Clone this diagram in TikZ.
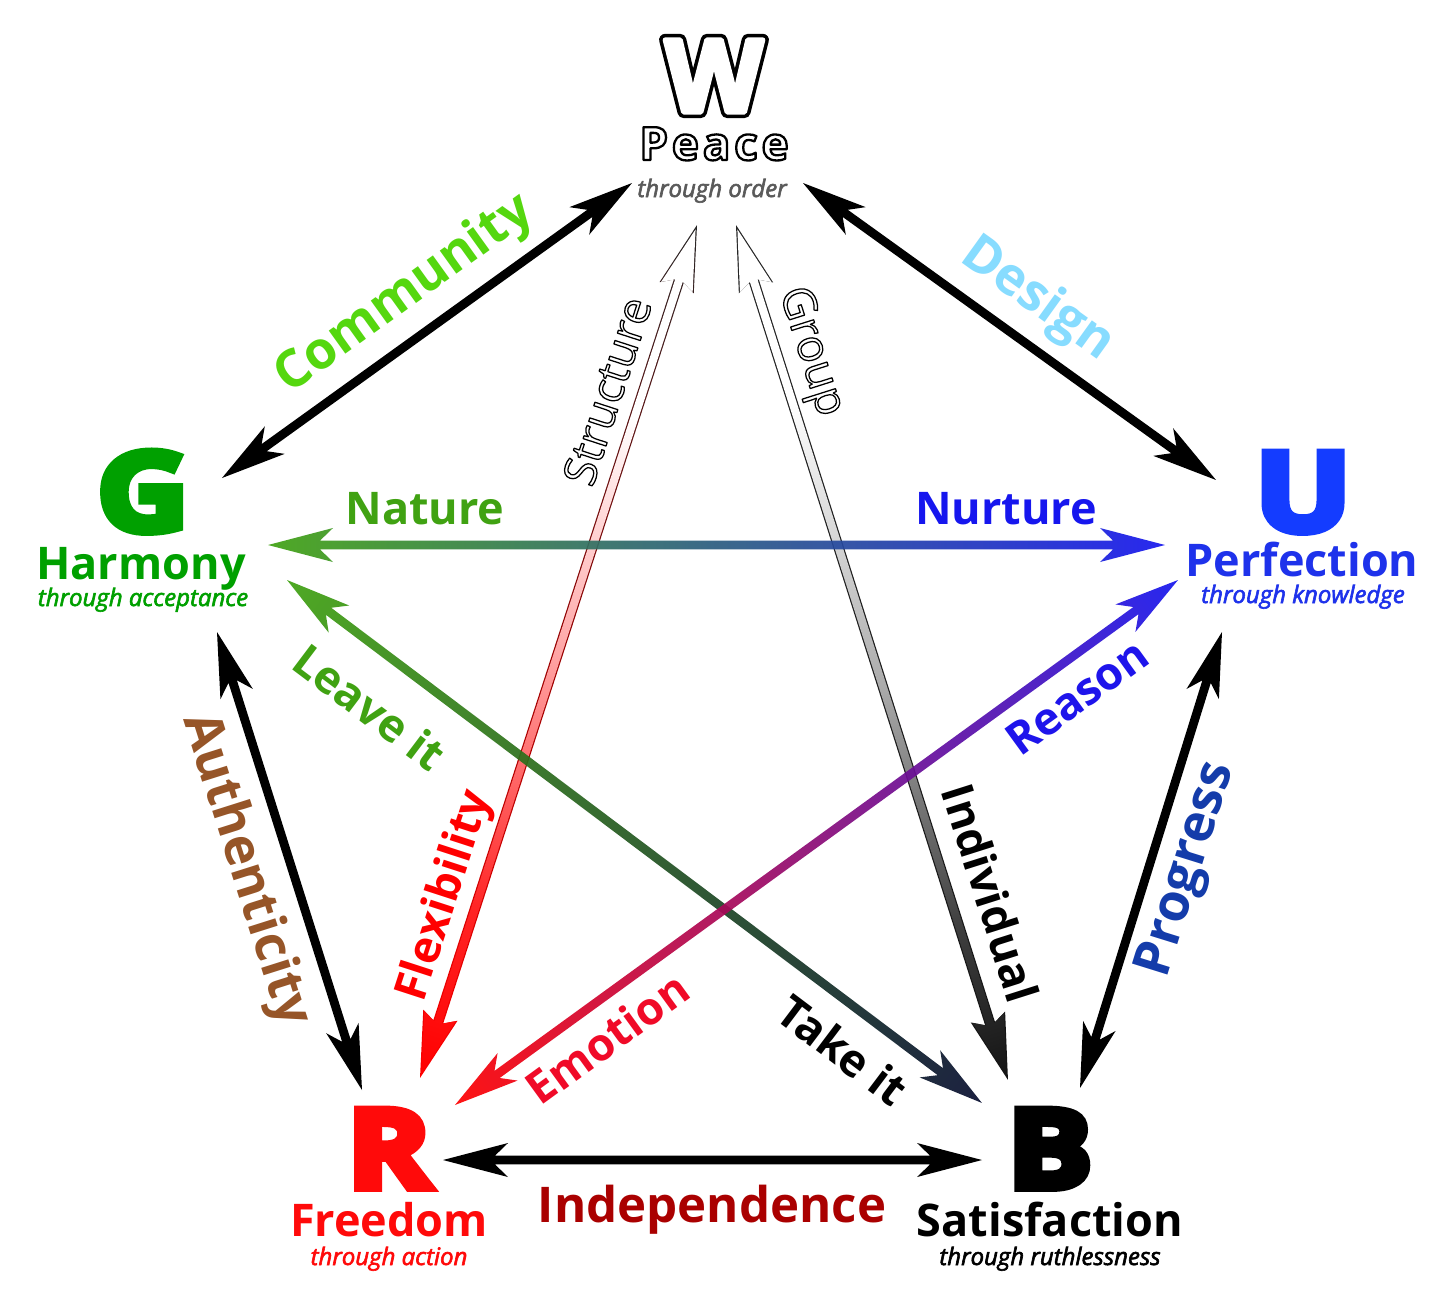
\documentclass[tikz,border=0pt]{standalone}
\usepackage{fontspec}
\usepackage{graphicx}
\setmainfont{Open Sans}
\newfontfamily\heavyfont{Open Sans}[BoldFeatures={FakeBold=7}]
\newfontfamily\subfont{Open Sans}[ItalicFeatures={FakeBold=2.5}]
\newfontfamily\wblackfont{Open Sans}[FakeBold=12,BoldFeatures={FakeBold=12}]
\newfontfamily\wwhitefont{Open Sans}[FakeBold=5,BoldFeatures={FakeBold=5}]
\newfontfamily\peacefont{Open Sans}[FakeBold=5,BoldFeatures={FakeBold=5},LetterSpace=8]
\newfontfamily\thinoutfont{Open Sans}[FakeBold=2.8,BoldFeatures={FakeBold=2.8}]
\newcommand\outlined[1]{\special{pdf:bcolor [1] [0]}#1\special{pdf:ecolor}}
\definecolor{cG}{RGB}{0,160,0}
\definecolor{cU}{RGB}{20,60,255}
\definecolor{cUt}{RGB}{30,50,235}
\definecolor{cR}{RGB}{255,10,10}
\definecolor{cCommunity}{RGB}{85,215,15}
\definecolor{cDesign}{RGB}{135,220,255}
\definecolor{cNature}{RGB}{64,162,18}
\definecolor{cNurture}{RGB}{22,22,238}
\definecolor{cReason}{RGB}{30,20,235}
\definecolor{cEmotion}{RGB}{240,10,40}
\definecolor{cAuth}{RGB}{150,85,40}
\definecolor{cProg}{RGB}{20,60,170}
\definecolor{cIndep}{RGB}{170,0,0}
\definecolor{cNavy}{RGB}{8,14,48}
\definecolor{cSub}{RGB}{90,90,90}
\pgfdeclarehorizontalshading{redfade}{100bp}{color(0bp)=(white); color(25bp)=(white); color(36bp)=(white); color(50bp)=(red!35); color(65bp)=(red!85); color(75bp)=(red); color(100bp)=(red)}
\pgfdeclarehorizontalshading{blackfade}{100bp}{color(0bp)=(white); color(25bp)=(white); color(35bp)=(white); color(52bp)=(black!33); color(66bp)=(black!75); color(75bp)=(black!92); color(100bp)=(black!92)}
\pgfdeclarehorizontalshading{redrim}{100bp}{color(0bp)=(black!85); color(25bp)=(black!85); color(50bp)=(red!60!black); color(75bp)=(red); color(100bp)=(red)}
\pgfdeclarehorizontalshading{blackrim}{100bp}{color(0bp)=(black!85); color(25bp)=(black!85); color(75bp)=(black!92); color(100bp)=(black!92)}
\makeatletter
\newdimen\arrdx \newdimen\arrdy
\newcommand\arrsetup[2]{%
  \pgfpointdiff{\pgfpointanchor{#1}{center}}{\pgfpointanchor{#2}{center}}%
  \arrdx=\pgf@x\relax \arrdy=\pgf@y\relax
  \pgfmathsetmacro\arrlen{veclen(\arrdx,\arrdy)}%
  \pgfmathsetmacro\arrang{atan2(\arrdy,\arrdx)}%
}
\makeatother
\newcommand\arrpoly[5]{%
  \pgfmathsetmacro\aT{#1}\pgfmathsetmacro\aH{#2}\pgfmathsetmacro\aHW{#3}%
  \pgfmathsetmacro\aA{#2-#4}\pgfmathsetmacro\aW{#5}%
  \pgfmathsetmacro\aB{\arrlen-#2}\pgfmathsetmacro\aC{\arrlen-#2+#4}%
  \pgfmathsetmacro\aD{\arrlen-#1}%
  \def\arrpath{(\aT pt,0pt) -- (\aH pt,\aHW pt) -- (\aA pt,\aW pt) -- (\aC pt,\aW pt) -- (\aB pt,\aHW pt) -- (\aD pt,0pt) -- (\aB pt,-\aHW pt) -- (\aC pt,-\aW pt) -- (\aA pt,-\aW pt) -- (\aH pt,-\aHW pt) -- cycle}%
}
\newcommand\shapearrow[5][]{%
  \arrsetup{#2}{#3}\arrpoly{0}{32.5}{8.5}{6.5}{2.2}%
  \begin{scope}[transform canvas={shift={(#2)},rotate=\arrang}]
    \shade[left color=#4,right color=#5,#1] \arrpath;
  \end{scope}}
\newcommand\outlinearrow[4]{% from, to, rim shading, fill shading
  \arrsetup{#1}{#2}%
  \begin{scope}[transform canvas={shift={(#1)},rotate=\arrang}]
    \arrpoly{0}{33}{9}{3.5}{2.6}%
    \shade[shading=#3] \arrpath;
    \arrpoly{2.3}{32.6}{8.3}{3.4}{2.0}%
    \shade[shading=#4] \arrpath;
  \end{scope}}
\begin{document}
\begin{tikzpicture}[x=0.5pt,y=-0.5pt,
  letter/.style={font=\heavyfont\bfseries\fontsize{55}{60}\selectfont, anchor=base, inner sep=0pt},
  vname/.style={font=\bfseries\fontsize{22.5}{26}\selectfont, anchor=base, inner sep=0pt},
  vsub/.style={font=\subfont\itshape\fontsize{12}{14}\selectfont, anchor=base, inner sep=0pt},
  elabel/.style={font=\bfseries\fontsize{26}{30}\selectfont, inner sep=0pt},
  dlabel/.style={font=\bfseries\fontsize{22.5}{26}\selectfont, inner sep=0pt},
  olabel/.style={font=\thinoutfont\fontsize{22.5}{26}\selectfont, inner sep=0pt, line join=round}]
\useasboundingbox (0,0) rectangle (1456,1292);
\fill[white] (0,0) rectangle (1456,1292);
% arrow end points
\coordinate (GW) at (222,478); \coordinate (WG) at (632,183);
\coordinate (WU) at (803,183); \coordinate (UW) at (1216,480);
\coordinate (UB) at (1222,632); \coordinate (BU) at (1080,1088);
\coordinate (BR) at (982,1160); \coordinate (RB) at (443,1160);
\coordinate (RG) at (362,1090); \coordinate (GR) at (217,632);
\coordinate (GU) at (268,545); \coordinate (UG) at (1165,545);
\coordinate (GB) at (287,580); \coordinate (BG) at (982,1103);
\coordinate (UR) at (1178,580); \coordinate (RU) at (455,1105);
\coordinate (WR) at (697,225); \coordinate (RW) at (420,1078);
\coordinate (WB) at (736,225); \coordinate (BW) at (1008,1080);
% perimeter
\shapearrow{GW}{WG}{black}{black}
\shapearrow{WU}{UW}{black}{black}
\shapearrow{UB}{BU}{black}{black}
\shapearrow{BR}{RB}{black}{black}
\shapearrow{RG}{GR}{black}{black}
% star
\outlinearrow{WR}{RW}{redrim}{redfade}
\outlinearrow{WB}{BW}{blackrim}{blackfade}
\shapearrow[opacity=0.92]{GU}{UG}{cNature}{cNurture}
\shapearrow[opacity=0.92]{GB}{BG}{cNature}{cNavy}
\shapearrow[opacity=0.92]{UR}{RU}{cNurture}{red}
% vertices
\node[letter, font=\bfseries\fontsize{50.5}{56}\selectfont, line join=round] (W) at (714,112) {{\wblackfont W}\llap{\wwhitefont\color{white}W}};
\node[vname, font=\peacefont\bfseries\fontsize{23}{26}\selectfont, line join=round] (Wn) at (714,160) {\outlined{Peace}};
\node[vsub, cSub] (Ws) at (712,197) {through order};
\node[letter, cU] (U) at (1303,531) {\scalebox{1.15}[1]{U}};
\node[vname, cUt] (Un) at (1302,576) {Perfection};
\node[vsub, cUt] (Us) at (1303,603) {through knowledge};
\node[letter, cG] (G) at (143,531) {\scalebox{1.15}[1]{G}};
\node[vname, cG] (Gn) at (141,579) {Harmony};
\node[vsub, cG] (Gs) at (143,606) {through acceptance};
\node[letter, cR] (R) at (389,1188) {\scalebox{1.15}[1]{R}};
\node[vname, cR] (Rn) at (389,1236) {Freedom};
\node[vsub, cR] (Rs) at (389,1265) {through action};
\node[letter] (B) at (1050,1188) {\scalebox{1.15}[1]{B}};
\node[vname] (Bn) at (1050,1236) {Satisfaction};
\node[vsub] (Bs) at (1050,1265) {through ruthlessness};
% edge labels
\node[elabel, cCommunity, rotate=35.7] (lCom) at (405,295) {Community};
\node[elabel, cDesign, rotate=-35.7] (lDes) at (1037,300) {Design};
\node[elabel, cAuth, rotate=-72.4] (lAut) at (245,870) {Authenticity};
\node[elabel, cProg, rotate=72.7] (lPro) at (1188,870) {Progress};
\node[elabel, cIndep, anchor=base, font=\bfseries\fontsize{24.6}{28}\selectfont] (lInd) at (712,1222) {Independence};
\node[dlabel, cNature, anchor=base] (lNat) at (425,524) {Nature};
\node[dlabel, cNurture, anchor=base] (lNur) at (1006,524) {Nurture};
\node[dlabel, cNature, rotate=-37] (lLea) at (370,707) {Leave it};
\node[dlabel, rotate=-37] (lTak) at (843,1050) {Take it};
\node[dlabel, cReason, rotate=36] (lRea) at (1077,697) {Reason};
\node[dlabel, cEmotion, rotate=36] (lEmo) at (607,1038) {Emotion};
\node[dlabel, red, rotate=72] (lFle) at (446,896) {Flexibility};
\node[dlabel, rotate=-72.4] (lIndv) at (991,893) {Individual};
\node[olabel, rotate=72] (lStr) at (607,391) {\outlined{Structure}};
\node[olabel, rotate=-72.4] (lGro) at (810,352) {\outlined{Group}};
\end{tikzpicture}
\end{document}
